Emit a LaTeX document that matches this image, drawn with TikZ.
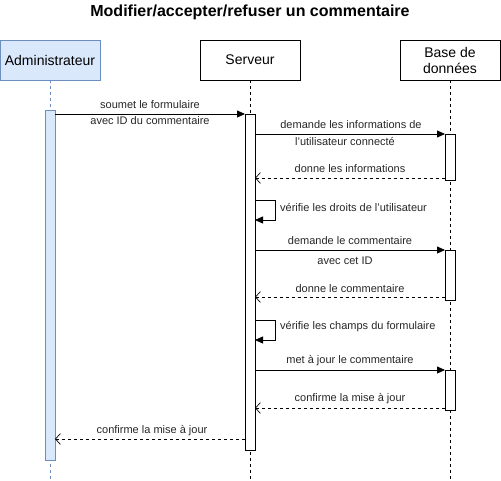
\documentclass[tikz,border=0pt]{standalone}
\usepackage{fontspec}
\setmainfont{Liberation Sans}
\usetikzlibrary{arrows.meta}
\definecolor{adminfill}{HTML}{DAE8FC}
\definecolor{admindraw}{HTML}{6C8EBF}
\begin{document}
\begin{tikzpicture}[x=1pt, y=-1pt,
  actor/.style={draw, line width=0.8pt, minimum width=100pt, minimum height=40pt, inner sep=0pt, align=center, font=\fontsize{14}{16}\selectfont},
  bar/.style={draw, fill=white, line width=0.8pt, minimum width=10pt, inner sep=0pt},
  life/.style={dash pattern=on 3pt off 3pt, line width=0.7pt},
  msg/.style={line width=0.8pt, -{Triangle[length=8pt, width=7pt]}},
  ret/.style={line width=0.8pt, dash pattern=on 3pt off 3pt, -{Straight Barb[length=5pt, width=11pt, line width=0.7pt]}},
  lbl/.style={font=\fontsize{11}{13}\selectfont, text=black!85, inner sep=0pt}]
\useasboundingbox (0,0) rectangle (501,481);
\node[font=\bfseries\fontsize{16}{18}\selectfont] (title) at (250,12) {Modifier/accepter/refuser un commentaire};
% lifelines
\node[actor, fill=adminfill, draw=admindraw] (admin) at (50,60) {Administrateur};
\node[actor] (serv) at (250,60) {Serveur};
\node[actor] (base) at (450,60) {Base de\\données};
\coordinate (adminend) at (50,480);
\coordinate (servend) at (250,480);
\coordinate (baseend) at (450,480);
\draw[life, draw=admindraw] (admin.south) -- (adminend);
\draw[life] (serv.south) -- (servend);
\draw[life] (base.south) -- (baseend);
% activations
\node[bar, fill=adminfill, draw=admindraw, minimum height=350pt] (adminbar) at (50,285) {};
\node[bar, minimum height=336pt] (servbar) at (250,282) {};
\node[bar, minimum height=46pt] (basebar1) at (450,157) {};
\node[bar, minimum height=50pt] (basebar2) at (450,275) {};
\node[bar, minimum height=40pt] (basebar3) at (450,390) {};
% messages
\coordinate (m1a) at (55,114); \coordinate (m1b) at (245,114);
\draw[msg] (m1a) -- (m1b);
\node[lbl] (m1t) at (150,105) {soumet le formulaire};
\node[lbl] (m1u) at (150,121) {avec ID du commentaire};
\coordinate (m2a) at (255,134); \coordinate (m2b) at (445,134);
\draw[msg] (m2a) -- (m2b);
\node[lbl] (m2t) at (351,125) {demande les informations de};
\node[lbl] (m2u) at (345,142) {l'utilisateur connecté};
\coordinate (m3a) at (445,178); \coordinate (m3b) at (255,178);
\draw[ret] (m3a) -- (m3b);
\node[lbl] (m3t) at (350,169) {donne les informations};
\coordinate (s1a) at (255,200); \coordinate (s1b) at (255,220);
\draw[msg] (s1a) -- ++(20,0) |- (s1b);
\node[lbl, anchor=west] (s1t) at (280,208) {vérifie les droits de l'utilisateur};
\coordinate (m4a) at (255,250); \coordinate (m4b) at (445,250);
\draw[msg] (m4a) -- (m4b);
\node[lbl] (m4t) at (350,241) {demande le commentaire};
\node[lbl] (m4u) at (345,261) {avec cet ID};
\coordinate (m5a) at (445,297); \coordinate (m5b) at (255,297);
\draw[ret] (m5a) -- (m5b);
\node[lbl] (m5t) at (350,289) {donne le commentaire};
\coordinate (s2a) at (255,320); \coordinate (s2b) at (255,340);
\draw[msg] (s2a) -- ++(20,0) |- (s2b);
\node[lbl, anchor=west] (s2t) at (280,327) {vérifie les champs du formulaire};
\coordinate (m6a) at (255,370); \coordinate (m6b) at (445,370);
\draw[msg] (m6a) -- (m6b);
\node[lbl] (m6t) at (350,361) {met à jour le commentaire};
\coordinate (m7a) at (445,408); \coordinate (m7b) at (255,408);
\draw[ret] (m7a) -- (m7b);
\node[lbl] (m7t) at (350,399) {confirme la mise à jour};
\coordinate (m8a) at (245,439); \coordinate (m8b) at (55,439);
\draw[ret] (m8a) -- (m8b);
\node[lbl] (m8t) at (152,431) {confirme la mise à jour};
\end{tikzpicture}
\end{document}
